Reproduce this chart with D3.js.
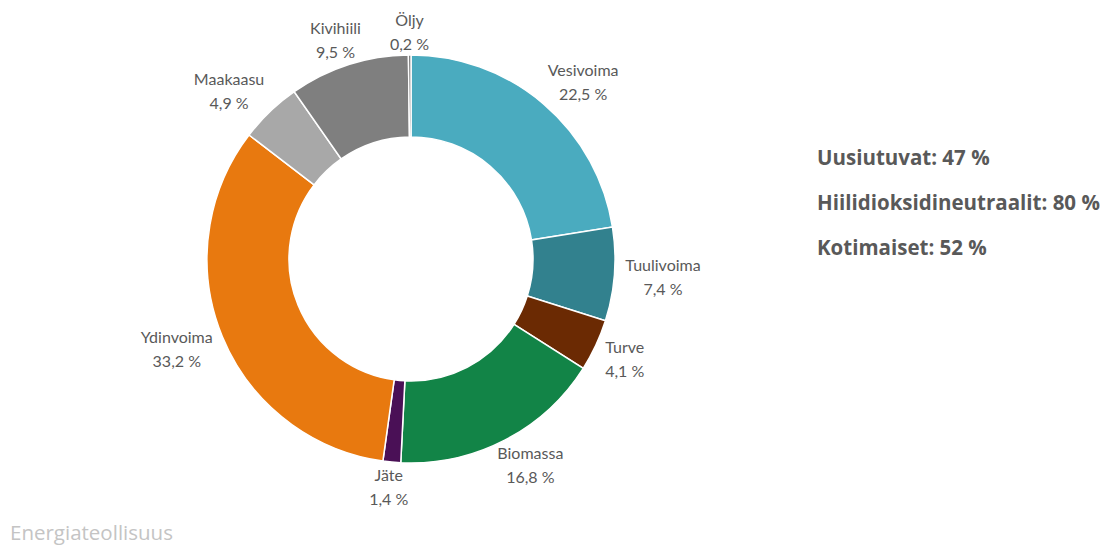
<!DOCTYPE html>
<html>
<head>
<meta charset="utf-8">
<script src="https://cdn.jsdelivr.net/npm/d3@7"></script>
<style>
  body { margin: 0; background: #fff; }
  svg { display: block; }
</style>
</head>
<body>
<svg id="chart"></svg>
<script>
const categories = ["Vesivoima", "Tuulivoima", "Turve", "Biomassa", "Jäte", "Ydinvoima", "Maakaasu", "Kivihiili", "Öljy"];
const values = [22.5, 7.4, 4.1, 16.8, 1.4, 33.2, 4.9, 9.5, 0.2];
const colors = ["#4aabbf", "#32818e", "#6b2a03", "#128447", "#4a1056", "#e8790f", "#a8a8a8", "#7f7f7f", "#5e5e5e"];
const summary = ["Uusiutuvat: 47 %", "Hiilidioksidineutraalit: 80 %", "Kotimaiset: 52 %"];
const source = "Energiateollisuus";

const width = 1107, height = 546;
const cx = 411, cy = 259;
const outer = 204, inner = 122;

const svg = d3.select("#chart")
    .attr("width", width)
    .attr("height", height);

const pie = d3.pie().sort(null).value(d => d.value);
const arcs = pie(categories.map((c, i) => ({name: c, value: values[i], color: colors[i]})));

const arc = d3.arc().innerRadius(inner).outerRadius(outer);

const g = svg.append("g").attr("transform", `translate(${cx},${cy})`);

g.selectAll("path")
    .data(arcs)
    .enter()
    .append("path")
    .attr("d", arc)
    .attr("fill", d => d.data.color)
    .attr("stroke", "#fff")
    .attr("stroke-width", 1.5);

// labels outside the ring, pushed out by the label box
const fmt = v => d3.format(".1f")(v).replace(".", ",") + " %";
const labels = g.selectAll(".lbl")
    .data(arcs)
    .enter()
    .append("text")
    .attr("class", "lbl")
    .attr("text-anchor", "middle")
    .attr("font-family", "Lato, 'Open Sans', sans-serif")
    .attr("font-size", 16)
    .attr("fill", "#595959");

labels.append("tspan").attr("x", 0).attr("dy", 0).text(d => d.data.name);
labels.append("tspan").attr("x", 0).attr("dy", 24).text(d => fmt(d.data.value));

labels.attr("transform", function(d) {
    const a = (d.startAngle + d.endAngle) / 2;
    const bb = this.getBBox();
    const s = Math.sin(a), c = -Math.cos(a);
    const r = outer + 2 + 9 * Math.abs(s);
    // lean towards the box corner on diagonals
    const kx = Math.sign(s) * Math.min(1, Math.abs(s) * 1.5);
    const x = r * s + kx * bb.width / 2;
    const y = r * c + c * bb.height / 2 - (bb.y + bb.height / 2);
    return `translate(${x},${y})`;
});

// summary block
svg.append("g")
    .selectAll("text")
    .data(summary)
    .enter()
    .append("text")
    .attr("x", 817)
    .attr("y", (d, i) => 165 + i * 45)
    .attr("font-family", "'Open Sans', sans-serif")
    .attr("font-weight", "bold")
    .attr("font-size", 20.5)
    .attr("fill", "#595959")
    .text(d => d);

svg.append("text")
    .attr("x", 10)
    .attr("y", 540)
    .attr("font-family", "'Open Sans', sans-serif")
    .attr("font-size", 20.5)
    .attr("fill", "#c4c4c4")
    .text(source);
</script>
</body>
</html>
